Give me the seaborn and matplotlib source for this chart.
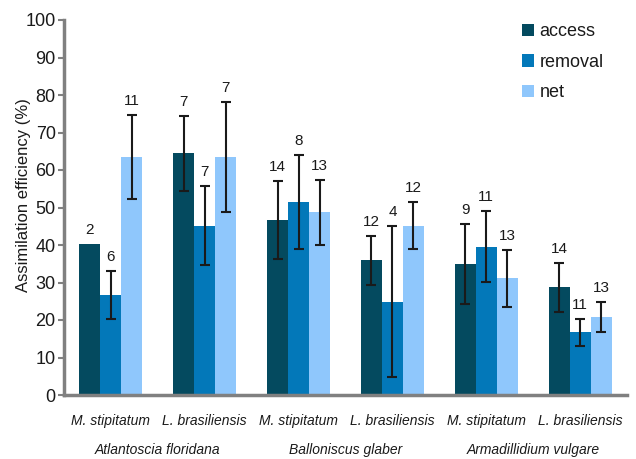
import matplotlib
matplotlib.use("Agg")
import matplotlib.pyplot as plt
import matplotlib.transforms as mtransforms
import seaborn as sns
import pandas as pd
import numpy as np

# ---- data ----
host_species = ["Atlantoscia floridana", "Balloniscus glaber", "Armadillidium vulgare"]
leaf_species = ["M. stipitatum", "L. brasiliensis", "M. stipitatum", "L. brasiliensis", "M. stipitatum", "L. brasiliensis"]
series = ["access", "removal", "net"]
access_vals = [40.4, 64.4, 46.8, 35.9, 34.9, 28.7]
removal_vals = [26.7, 45.2, 51.5, 24.9, 39.6, 16.7]
net_vals = [63.5, 63.5, 48.7, 45.2, 31.1, 20.8]
access_err = [np.nan, 10.1, 10.4, 6.6, 10.6, 6.5]
removal_err = [6.5, 10.5, 12.6, 20.1, 9.5, 3.7]
net_err = [11.3, 14.6, 8.6, 6.3, 7.5, 4.0]
access_n = [2, 7, 14, 12, 9, 14]
removal_n = [6, 7, 8, 4, 11, 11]
net_n = [11, 7, 13, 12, 13, 13]
colors = ["#044a5f", "#0378b9", "#8fc7fc"]

sns.set_theme(style="white")
plt.rcParams["font.family"] = ["Liberation Sans", "DejaVu Sans"]

groups = [f"g{i}" for i in range(len(leaf_species))]
vals = {"access": access_vals, "removal": removal_vals, "net": net_vals}
errs = {"access": access_err, "removal": removal_err, "net": net_err}
ns = {"access": access_n, "removal": removal_n, "net": net_n}
rows = []
for s in series:
    for g, v, e, n in zip(groups, vals[s], errs[s], ns[s]):
        rows.append({"group": g, "series": s, "value": v, "err": e, "n": n})
df = pd.DataFrame(rows)

fig = plt.figure(figsize=(6.36, 4.59), dpi=100)
ax = fig.add_axes([64 / 636, (459 - 395) / 459, (627 - 64) / 636, (395 - 20) / 459])

sns.barplot(data=df, x="group", y="value", hue="series", order=groups, hue_order=series,
            palette=colors, width=0.67, gap=0, saturation=1, errorbar=None, ax=ax,
            edgecolor="none", linewidth=0)

# error bars and n labels from bar patches
bars = [p for p in ax.patches if p.get_width() > 0 and p.get_height() > 0]
bars = sorted(bars, key=lambda p: p.get_x())
flat = []
for gi in range(len(groups)):
    for s in series:
        flat.append(df[(df.group == groups[gi]) & (df.series == s)].iloc[0])
for p, row in zip(bars, flat):
    cx = p.get_x() + p.get_width() / 2
    top = p.get_height()
    e = row["err"]
    if not np.isnan(e):
        ax.errorbar(cx, top, yerr=e, fmt="none", ecolor="#1a1a1a", elinewidth=1.5,
                    capsize=3.5, capthick=1.5, zorder=5)
        ytxt = top + e
    else:
        ytxt = top
    ax.annotate(str(int(row["n"])), (cx, ytxt), xytext=(0, 5), textcoords="offset points",
                ha="center", va="bottom", fontsize=11, color="#1a1a1a")

ax.set_xlim(-0.5, len(groups) - 0.5)
ax.set_ylim(0, 100)
ax.set_yticks(range(0, 101, 10))
ax.tick_params(axis="y", labelsize=13, length=4, width=1.5, color="#808080", direction="out",
               left=True, pad=2, labelcolor="#1a1a1a")
ax.set_xticks(range(len(groups)))
ax.set_xticklabels(leaf_species, fontstyle="italic", fontsize=10, color="#1a1a1a")
ax.tick_params(axis="x", length=0, pad=14)
ax.set_xlabel("")
ax.set_ylabel("Assimilation efficiency (%)", fontsize=12, color="#1a1a1a")
ax.yaxis.set_label_coords(-0.058, 0.533)

for side in ["top", "right"]:
    ax.spines[side].set_visible(False)
for side in ["left", "bottom"]:
    ax.spines[side].set_color("#808080")
    ax.spines[side].set_linewidth(2.5)

trans = mtransforms.blended_transform_factory(ax.transData, ax.transAxes)
for i, h in enumerate(host_species):
    ax.text(2 * i + 0.5, -55 / 375, h, transform=trans, ha="center", va="center",
            fontstyle="italic", fontsize=10, color="#1a1a1a")

leg = ax.legend(loc="upper right", bbox_to_anchor=(0.978, 1.02), frameon=False, fontsize=13,
                labelspacing=0.75, handlelength=0.7, handleheight=0.7, handletextpad=0.3,
                borderaxespad=0.2)
for t in leg.get_texts():
    t.set_color("#1a1a1a")

fig.savefig("out.png", dpi=100)
